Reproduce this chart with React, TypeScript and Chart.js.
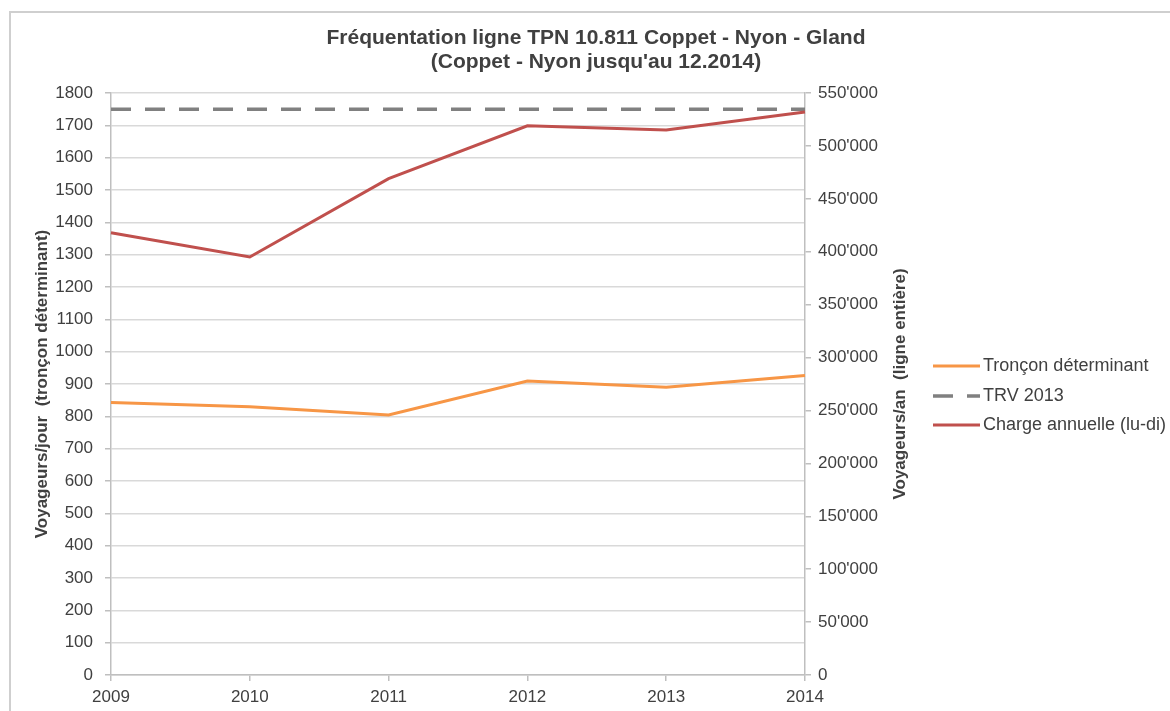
import React, { useEffect, useRef } from "react";
import { Chart, registerables } from "chart.js";

Chart.register(...registerables);

const years = ["2009", "2010", "2011", "2012", "2013", "2014"];
const tronconValues = [843, 830, 804, 909, 890, 926];
const trvValues = [1750, 1750, 1750, 1750, 1750, 1750];
const chargeValues = [418000, 395000, 469000, 519000, 515000, 532000];
const titleLines = [
  "Fréquentation ligne TPN 10.811 Coppet - Nyon - Gland",
  "(Coppet - Nyon jusqu'au 12.2014)",
];
const leftTitle = "Voyageurs/jour  (tronçon déterminant)";
const rightTitle = "Voyageurs/an  (ligne entière)";
const seriesNames = ["Tronçon déterminant", "TRV 2013", "Charge annuelle (lu-di)"];

const FONT = "'Liberation Sans', Arial, Helvetica, sans-serif";
const TEXT = "#404040";

const fmtApos = (v: number) =>
  String(Math.round(v)).replace(/\B(?=(\d{3})+(?!\d))/g, "'");

const extrasPlugin = {
  id: "extras",
  afterDraw(chart: any) {
    const ctx = chart.ctx;
    ctx.save();
    // right axis title, reading bottom to top
    const area = chart.chartArea;
    ctx.font = `bold 17px ${FONT}`;
    ctx.fillStyle = TEXT;
    ctx.textAlign = "center";
    ctx.textBaseline = "middle";
    ctx.translate(900, (area.top + area.bottom) / 2);
    ctx.rotate(-Math.PI / 2);
    ctx.fillText(rightTitle, 0, 0);
    ctx.restore();

    // legend
    const rows = [366, 396, 425];
    chart.data.datasets.forEach((ds: any, i: number) => {
      const y = rows[i];
      ctx.save();
      ctx.strokeStyle = ds.borderColor;
      ctx.lineWidth = ds.borderWidth;
      ctx.setLineDash(ds.borderDash || []);
      ctx.beginPath();
      ctx.moveTo(933, y);
      ctx.lineTo(980, y);
      ctx.stroke();
      ctx.setLineDash([]);
      ctx.font = `18px ${FONT}`;
      ctx.fillStyle = TEXT;
      ctx.textAlign = "left";
      ctx.textBaseline = "middle";
      ctx.fillText(ds.label, 983, y);
      ctx.restore();
    });
  },
};

export default function App() {
  const ref = useRef<HTMLCanvasElement | null>(null);

  useEffect(() => {
    if (!ref.current) return;
    Chart.defaults.font.family = FONT;
    const chart = new Chart(ref.current, {
      type: "line",
      data: {
        labels: years,
        datasets: [
          {
            label: seriesNames[0],
            data: tronconValues,
            borderColor: "#f79646",
            backgroundColor: "#f79646",
            borderWidth: 3,
            pointRadius: 0,
            yAxisID: "y",
            order: 3,
          },
          {
            label: seriesNames[1],
            data: trvValues,
            borderColor: "#808080",
            backgroundColor: "#808080",
            borderWidth: 3.5,
            borderDash: [20, 14],
            pointRadius: 0,
            yAxisID: "y",
            order: 2,
          },
          {
            label: seriesNames[2],
            data: chargeValues,
            borderColor: "#c0504d",
            backgroundColor: "#c0504d",
            borderWidth: 3,
            pointRadius: 0,
            yAxisID: "y1",
            order: 1,
          },
        ],
      },
      options: {
        responsive: false,
        animation: false,
        devicePixelRatio: 1,
        layout: { padding: { left: 22, right: 0, top: 0, bottom: 0 } },
        plugins: {
          legend: { display: false },
          tooltip: { enabled: false },
          title: {
            display: true,
            text: titleLines,
            color: TEXT,
            font: { family: FONT, size: 21, weight: "bold", lineHeight: 24 / 21 },
            padding: { top: 26, bottom: 19 },
          },
        },
        scales: {
          x: {
            type: "category",
            offset: false,
            grid: {
              display: true,
              drawOnChartArea: false,
              tickLength: 6,
              color: "#bfbfbf",
              lineWidth: 1.5,
            },
            border: { color: "#bfbfbf", width: 1.5 },
            ticks: { color: TEXT, font: { size: 17 }, padding: 6, maxRotation: 0 },
            afterFit: (s: any) => {
              s.height = 36;
            },
          },
          y: {
            position: "left",
            min: 0,
            max: 1800,
            ticks: {
              stepSize: 100,
              color: TEXT,
              font: { size: 17 },
              padding: 12,
              callback: (v: any) => String(v),
            },
            grid: { color: "#d9d9d9", lineWidth: 1.5, tickLength: 6, tickColor: "#bfbfbf" },
            border: { color: "#bfbfbf", width: 1.5 },
            title: {
              display: true,
              text: leftTitle,
              color: TEXT,
              font: { size: 17, weight: "bold" },
              padding: { top: 10, bottom: 0 },
            },
            afterFit: (s: any) => {
              s.width = 89;
            },
          },
          y1: {
            position: "right",
            min: 0,
            max: 550000,
            ticks: {
              stepSize: 50000,
              color: TEXT,
              font: { size: 17 },
              padding: 7,
              callback: (v: any) => fmtApos(Number(v)),
            },
            grid: { drawOnChartArea: false, tickLength: 6, color: "#bfbfbf", lineWidth: 1.5 },
            border: { color: "#bfbfbf", width: 1.5 },
            afterFit: (s: any) => {
              s.width = 365;
            },
          },
        },
      } as any,
      plugins: [extrasPlugin],
    });
    return () => chart.destroy();
  }, []);

  return (
    <div
      style={{
        position: "fixed",
        left: 0,
        top: 0,
        width: 1170,
        height: 711,
        overflow: "hidden",
        background: "#fff",
      }}
    >
      <div
        style={{
          position: "absolute",
          left: 9,
          top: 11,
          width: 1161,
          height: 700,
          borderTop: "2px solid #cfcfcf",
          borderLeft: "2px solid #cfcfcf",
          boxSizing: "border-box",
        }}
      />
      <canvas
        ref={ref}
        width={1170}
        height={711}
        style={{ position: "absolute", left: 0, top: 0, width: 1170, height: 711 }}
      />
    </div>
  );
}
